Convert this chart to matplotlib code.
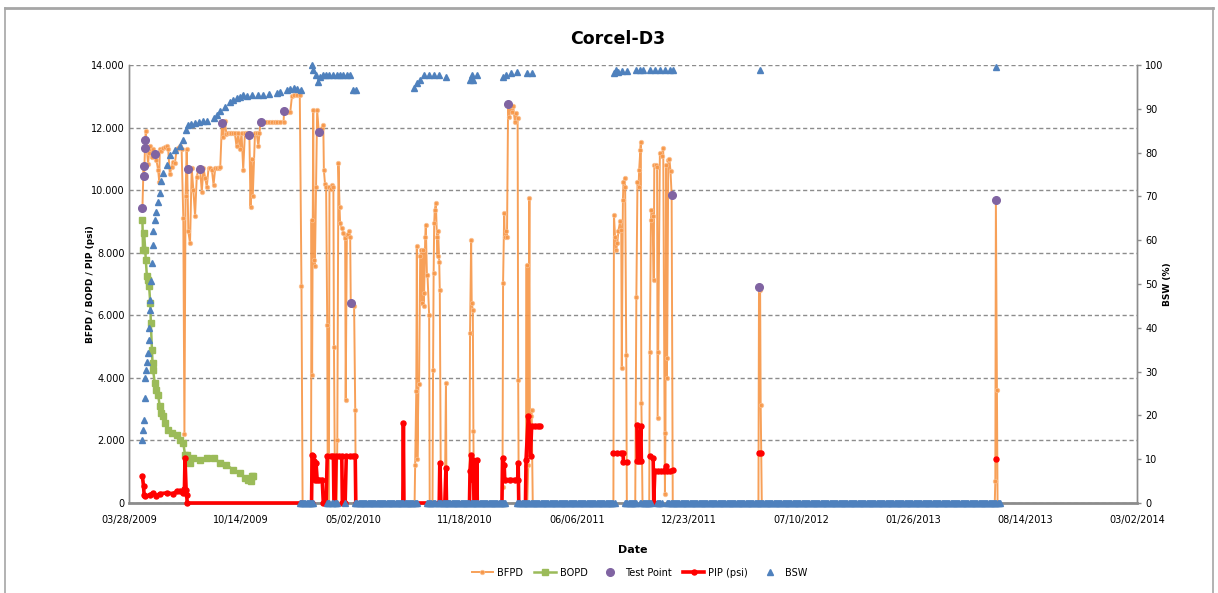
import matplotlib
matplotlib.use("Agg")
import matplotlib.pyplot as plt
import matplotlib.ticker as mticker
import matplotlib.dates as mdates
from matplotlib.lines import Line2D
import numpy as np
import pandas as pd

NAN = float("nan")
start = pd.Timestamp("2009-03-28")

# BFPD: day offset from 03/28/2009, barrels of fluid per day
bfpd_day = [24, 26, 27, 29, 30, 32, 34, 36, 38, 41, 43, 46, 49, 52, 54, 55, 58, 61, 64, 67,
            70, 73, 76, 79, 82, 85, 88, 91, 94, 97, 99, 101, 103, 104, 106, 109, 112, 115, 118, 121,
            124, 127, 130, 133, 136, 139, 142, 145, 148, 151, 154, 157, 160, 163, 166, 168, 171, 174, 177, 180,
            183, 186, 189, 192, 195, 198, 201, 204, 207, 211, 215, 217, 219, 221, 225, 228, 231, 233, 235, 240,
            245, 250, 255, 260, 265, 270, 276, 277, 282, 288, 291, 295, 300, 305, 308, 310, 325, 326, 327, 329,
            330, 332, 334, 336, 339, 341, 344, 347, 348, 350, 352, 354, 355, 357, 358, 361, 363, 365, 366, 368,
            371, 372, 374, 376, 377, 380, 383, 386, 387, 389, 391, 393, 395, 396, 399, 402, 404, 405, 510, 511,
            513, 514, 515, 517, 518, 520, 522, 523, 525, 526, 527, 529, 530, 532, 533, 536, 537, 542, 543, 544,
            545, 546, 548, 550, 551, 552, 554, 555, 557, 564, 566, 567, 608, 609, 611, 612, 614, 615, 616, 666,
            667, 668, 670, 671, 673, 675, 677, 679, 682, 684, 686, 689, 691, 694, 695, 696, 708, 709, 710, 711,
            713, 715, 716, 717, 719, 721, 865, 866, 868, 870, 872, 874, 877, 879, 880, 882, 883, 885, 886, 888,
            889, 904, 906, 908, 910, 911, 913, 914, 915, 917, 929, 930, 932, 933, 935, 937, 938, 941, 943, 944,
            945, 948, 951, 954, 957, 958, 959, 960, 961, 963, 965, 967, 969, 971, 1124, 1125, 1127, 1128, 1130, 1546,
            1547, 1548, 1550, 1551]
bfpd_val = [9420, 10780, 10450, 11600, 11900, 11300, 10850, 11200, 11400, 11070, 11300, 11160, 10960, 10650, 10270, 11300, 11250, 11340, 11380, 11400,
            11300, 10500, 10750, 10900, 10860, 11300, 11350, 11400, 11300, 9100, 2200, 9800, 11300, 10680, 8680, 8300, 10700, 10000, 9160, 10430,
            10650, 10680, 9950, 10700, 10400, 10100, 10700, 10700, 10650, 10170, 10700, 10700, 10700, 10750, 12140, 11700, 12200, 11800, 11820, 11820,
            11820, 11820, 11820, 11400, 11820, 11300, 11820, 10650, 11820, 11820, 11760, 9470, 11000, 9800, 11820, 11820, 11400, 11820, 12190, 12190,
            12190, 12190, 12190, 12190, 12190, 12190, 12190, 12500, 12500, 12500, 13000, 13040, 13040, 13040, 6940, 0, 0, 9050, 4100, 12560,
            7770, 7560, 10100, 12560, 11850, 11900, 12000, 12080, 10650, 10200, 10100, 5700, 0, 0, 10100, 10050, 10150, 10100, 5000, 0,
            0, 2020, 10860, 9470, 8940, 8800, 8620, 8460, 3300, 8550, 8600, 8680, 8500, 6390, 6350, 6300, 2980, 0, 0, 1200,
            3570, 8200, 1400, 3800, 3800, 7900, 8100, 6400, 8100, 6300, 6700, 8500, 8900, 7300, 7300, 6000, 0, 0, 4260, 7350,
            8940, 9370, 9580, 8500, 7900, 8700, 7700, 6800, 0, 0, 3830, 0, 0, 5430, 8400, 6390, 6170, 2290, 0, 0,
            500, 7030, 9260, 8500, 8700, 8500, 12780, 12350, 12700, 12500, 12700, 12190, 12460, 12300, 3940, 0, 0, 1170, 7600, 0,
            1200, 9740, 1500, 2770, 2980, 0, 0, 9200, 8500, 8100, 8300, 8700, 9000, 8730, 4300, 9700, 10270, 10400, 10100, 4740,
            0, 0, 6600, 10270, 10100, 10650, 11280, 11550, 3190, 0, 0, 4840, 9050, 9370, 9160, 7130, 10800, 10800, 10750, 2710,
            4840, 11180, 11100, 11340, 300, 2240, 10800, 4000, 4630, 10960, 11000, 10600, 9850, 0, 0, 6900, 6800, 3140, 0, 0,
            690, 9700, 3600, 0]

# BOPD: barrels of oil per day
bopd_day = [24, 25, 27, 29, 30, 32, 34, 36, 38, 39, 41, 42, 43, 46, 49, 52, 55, 58, 61, 64,
            70, 76, 85, 91, 97, 100, 103, 109, 115, 127, 139, 151, 163, 174, 186, 198, 207, 213, 217, 219, 222]
bopd_val = [9050, 8100, 8620, 8090, 7770, 7240, 7130, 6920, 6390, 5750, 4900, 4470, 4260, 3830, 3620, 3460, 3090, 2870, 2770, 2560,
            2340, 2240, 2180, 2020, 1920, 1540, 1540, 1280, 1440, 1380, 1440, 1440, 1280, 1220, 1060, 960, 800, 750, 690, 850, 850]

# Test points
test_day = [24, 26, 27, 29, 29, 46, 106, 127, 166, 215, 235, 277, 339, 396, 677, 969, 1125, 1548]
test_val = [9420, 10780, 10450, 11600, 11340, 11160, 10680, 10680, 12160, 11760, 12170, 12530, 11850, 6390, 12740, 9850, 6900, 9700]

# PIP (psi), NaN = no data
pip_day = [24, 26, 27, 29, 38, 43, 49, 55, 67, 79, 85, 91, 97, 99, 100, 102, 103, 104, 308, 326,
           327, 329, 330, 332, 334, 336, 340, 345, 347, 352, 354, 360, 365, 366, 368, 370, 375, 380, 381, 386,
           388, 395, 400, 404, 405, 489, 490, 491, 554, 555, 557, 564, 566, 567, 608, 609, 611, 612, 614, 615,
           616, 620, 621, 622, 666, 667, 670, 671, 680, 690, 694, 695, 696, 708, 709, 713, 715, 717, 719, 725,
           730, 734, 800, 865, 872, 878, 882, 883, 889, 900, 907, 908, 911, 914, 915, 920, 930, 936, 937, 939,
           945, 950, 955, 959, 961, 966, 971, 1000, 1125, 1128, 1300, 1548]
pip_val = [850, 530, 270, 210, 270, 320, 230, 300, 320, 300, 370, 370, 320, 450, 1440, 430, 270, 0, 0, 0,
           1540, 1490, 1330, 750, 1280, 750, 750, 750, 0, 0, 1490, 1490, 1490, 0, 0, 1490, 1490, 1490, 0, 0,
           1490, 1490, 1490, 1490, 0, 0, 2550, 0, 0, 1280, 0, 0, 1120, 0, 0, 1010, 1540, 1280, 750, 1380,
           0, 0, 1380, 0, 0, 1440, 1220, 750, 750, 750, 750, 1280, 0, 0, 1380, 2770, 2450, 1490, 2450, 2450,
           2450, 2450, NAN, 1600, 1600, 1600, 1600, 1300, 1300, NAN, 2500, 1330, 1330, 2450, 1330, NAN, 1490, 1440, 0, 1010,
           1010, 1010, 1010, 1170, 1010, 1010, 1040, NAN, 1600, 1600, NAN, 1400]

# BSW (%) on the right axis
bsw_day = [24, 25, 26, 28, 29, 30, 32, 34, 35, 36, 37, 38, 39, 41, 42, 43, 46, 49, 52, 55,
           58, 61, 67, 73, 82, 91, 97, 101, 106, 110, 118, 125, 133, 140, 151, 157, 163, 171, 180, 186,
           192, 198, 204, 210, 220, 230, 240, 250, 264, 270, 282, 288, 294, 300, 308, 326, 329, 334, 338, 341,
           346, 352, 358, 365, 371, 377, 383, 389, 395, 400, 405, 509, 514, 520, 526, 535, 544, 553, 566, 609,
           612, 615, 621, 667, 674, 683, 692, 710, 719, 866, 870, 874, 880, 889, 906, 912, 918, 931, 940, 948,
           957, 966, 971, 1127, 1548]
bsw_val = [14.4, 16.7, 19.0, 24.0, 28.5, 30.4, 32.3, 34.2, 37.3, 39.9, 44.1, 46.4, 50.6, 54.8, 58.9, 62.0, 64.6, 66.5, 68.8, 70.7,
           73.4, 75.3, 77.2, 79.5, 80.6, 81.4, 82.9, 85.2, 86.3, 86.5, 86.7, 86.9, 87.1, 87.3, 87.8, 88.5, 89.4, 90.5, 91.6, 92.0,
           92.4, 92.8, 93.2, 93.0, 93.2, 93.2, 93.2, 93.3, 93.5, 93.8, 94.3, 94.5, 94.7, 94.5, 94.3, 100.0, 98.9, 97.7, 96.2, 97.3,
           97.7, 97.7, 97.7, 97.7, 97.7, 97.7, 97.7, 97.7, 97.7, 94.3, 94.3, 94.7, 95.8, 96.6, 97.7, 97.7, 97.7, 97.7, 97.3, 96.6,
           97.7, 96.6, 97.7, 97.3, 97.7, 98.1, 98.3, 98.1, 98.1, 98.1, 98.9, 98.5, 98.7, 98.7, 98.9, 98.9, 98.9, 98.9, 98.9, 98.9,
           98.9, 98.9, 98.9, 98.9, 99.6]
# day ranges where BSW was logged as 0 (daily records)
bsw_zero_runs = [(305, 329), (354, 359), (363, 371), (386, 386), (404, 514), (532, 547), (552, 672),
                 (693, 868), (886, 907), (913, 934), (943, 952), (961, 1556)]

xtick_days = [0, 200, 400, 600, 800, 1000, 1200, 1400, 1600, 1800]


def to_dates(days):
    return start + pd.to_timedelta(np.asarray(days, dtype=float), unit="D")


zero_days = np.concatenate([np.arange(a, b + 1, 2) for a, b in bsw_zero_runs])
bsw_all_day = np.concatenate([bsw_day, zero_days])
bsw_all_val = np.concatenate([bsw_val, np.zeros(len(zero_days))])

c_bfpd = "#F79646"
c_bopd = "#9BBB59"
c_test = "#8064A2"
c_pip = "#FF0000"
c_bsw = "#4F81BD"
grid_c = "#8C8C8C"

narrow = ["Liberation Sans Narrow", "DejaVu Sans"]

fig = plt.figure(figsize=(12.18, 5.93), dpi=100)
ax = fig.add_axes([0.1059, 0.1518, 0.8276, 0.7386])
ax2 = ax.twinx()

ax.plot(to_dates(bfpd_day), bfpd_val, color=c_bfpd, lw=1.4, alpha=0.9, marker="o", ms=3.2,
        mfc=c_bfpd, mec="#FAC090", mew=0.6, label="BFPD", zorder=2)
ax.plot(to_dates(bopd_day), bopd_val, color=c_bopd, lw=1.8, marker="s", ms=4,
        mfc=c_bopd, mec=c_bopd, label="BOPD", zorder=3)
ax.plot(to_dates(test_day), test_val, ls="none", marker="o", ms=5.5, mfc=c_test, mec=c_test,
        label="Test Point", zorder=4)
ax.plot(to_dates(pip_day), pip_val, color=c_pip, lw=2.6, marker="o", ms=3.6, mfc=c_pip, mec=c_pip,
        label="PIP (psi)", zorder=5, clip_on=False)
ax2.plot(to_dates(bsw_all_day), bsw_all_val, ls="none", marker="^", ms=4.8, mfc=c_bsw, mec=c_bsw,
         label="BSW", zorder=6, clip_on=False)

ax.set_xlim(to_dates([0])[0], to_dates([1800])[0])
ax.set_ylim(0, 14000)
ax2.set_ylim(0, 100)

ax.yaxis.set_major_locator(mticker.MultipleLocator(2000))
ax.yaxis.set_major_formatter(mticker.FuncFormatter(
    lambda v, p: "0" if v == 0 else f"{int(v):,}".replace(",", ".")))
ax2.yaxis.set_major_locator(mticker.MultipleLocator(10))
ax2.yaxis.set_major_formatter(mticker.FuncFormatter(lambda v, p: f"{int(v)}"))
ax.set_xticks(to_dates(xtick_days))
ax.xaxis.set_major_formatter(mdates.DateFormatter("%m/%d/%Y"))

ax.grid(axis="y", color=grid_c, ls=(0, (3, 2)), lw=1.0)
ax.grid(axis="x", visible=False)
for a in (ax, ax2):
    a.spines["top"].set_visible(False)
    for s in ("left", "right"):
        a.spines[s].set_color("#8C8C8C")
        a.spines[s].set_linewidth(1.0)
ax.spines["bottom"].set_color("#8C8C8C")
ax.spines["bottom"].set_linewidth(2.0)
ax.spines["bottom"].set_zorder(1)
ax2.spines["bottom"].set_visible(False)
ax.tick_params(axis="y", length=0, pad=3, labelcolor="black")
ax.tick_params(axis="x", length=0, pad=9, labelcolor="black")
ax2.tick_params(axis="y", length=3, width=1, color="#8C8C8C", pad=3, labelcolor="black")
for lab in ax.get_xticklabels() + ax.get_yticklabels() + ax2.get_yticklabels():
    lab.set_fontfamily(narrow)
    lab.set_fontsize(7)

ax.set_ylabel("BFPD / BOPD / PIP (psi)", fontsize=6.5, fontweight="bold")
ax.yaxis.set_label_coords(-0.034, 0.5)
ax2.set_ylabel("BSW (%)", fontsize=6.5, fontweight="bold")
ax2.yaxis.set_label_coords(1.026, 0.5)
ax.set_xlabel("Date", fontsize=8, fontweight="bold", family=narrow)
ax.xaxis.set_label_coords(0.5, -0.096)
fig.text(0.507, 0.935, "Corcel-D3", ha="center", va="center", fontsize=12.5,
         fontweight="bold", family=narrow)

h1, l1 = ax.get_legend_handles_labels()
h2, l2 = ax2.get_legend_handles_labels()
fig.legend(h1 + h2, l1 + l2, loc="center", bbox_to_anchor=(0.525, 0.034), ncol=5, frameon=False,
           prop={"family": narrow, "size": 7}, handlelength=2.2, columnspacing=1.2, handletextpad=0.4)

# outer chart frame
frame_c = "#A6A6A6"
fig.add_artist(Line2D([5 / 1218, 1213 / 1218], [1 - 8 / 593, 1 - 8 / 593], color=frame_c, lw=2))
fig.add_artist(Line2D([5 / 1218, 5 / 1218], [0, 1 - 8 / 593], color=frame_c, lw=1.2))
fig.add_artist(Line2D([1213 / 1218, 1213 / 1218], [0, 1 - 8 / 593], color=frame_c, lw=1.2))

fig.savefig("out.png", dpi=100)
